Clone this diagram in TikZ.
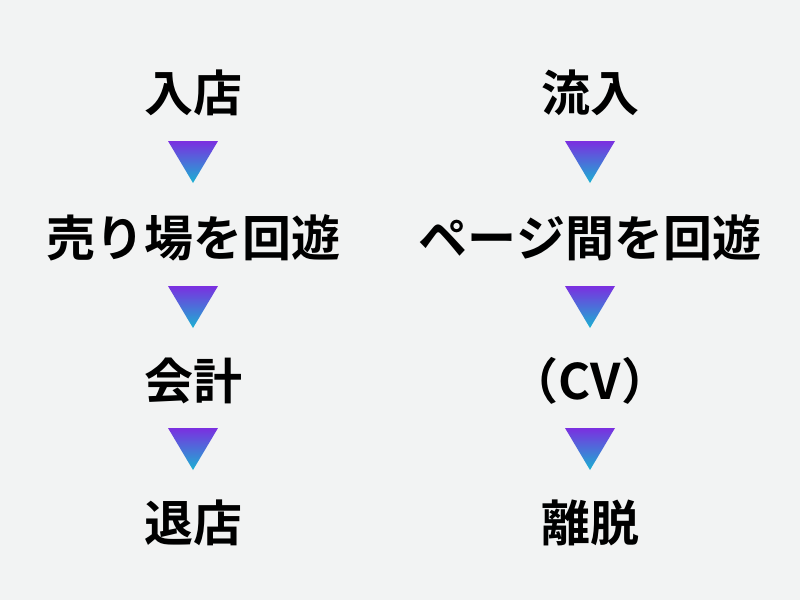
\documentclass[tikz,border=0pt]{standalone}
\usepackage{fontspec}
\newfontfamily\cjk{Noto Sans CJK JP Bold}
\definecolor{bg}{HTML}{F2F3F3}
\definecolor{tp}{HTML}{7B2FE0}
\definecolor{bt}{HTML}{1AB2D2}
\begin{document}
\begin{tikzpicture}[x=1pt,y=-1pt,
  lbl/.style={font=\cjk\fontsize{49}{52}\selectfont, text=black, inner sep=0},
  tri/.style={top color=tp, bottom color=bt, draw=none}]
\fill[bg] (0,0) rectangle (800,600);
\useasboundingbox (0,0) rectangle (800,600);
\node[lbl] (a1) at (193,93) {入店};
\node[lbl] (a2) at (193,238) {売り場を回遊};
\node[lbl] (a3) at (193,381) {会計};
\node[lbl] (a4) at (193,523) {退店};
\node[lbl] (b1) at (590,93) {流入};
\node[lbl] (b2) at (590,238) {ページ間を回遊};
\node[lbl] (b3) at (590,381) {（CV）};
\node[lbl] (b4) at (590,523) {離脱};
\foreach \cx in {193,590}{
  \foreach \ty in {141,286,428}{
    \shade[tri] (\cx-25,\ty) -- (\cx+25,\ty) -- (\cx,\ty+42) -- cycle;
  }
}
\end{tikzpicture}
\end{document}
